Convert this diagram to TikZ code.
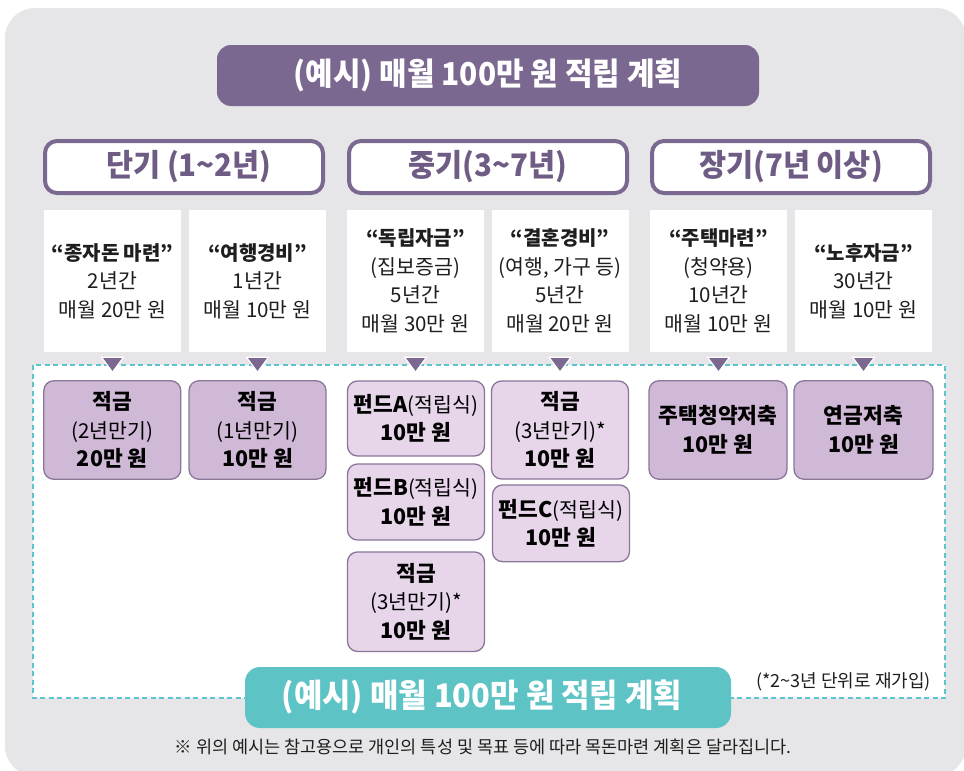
\documentclass[tikz,border=0pt]{standalone}
\usepackage{fontspec}
\usepackage{graphicx}
\setmainfont{Noto Sans CJK KR}
\usetikzlibrary{calc}
\definecolor{panelgray}{HTML}{E6E6E8}
\definecolor{purp}{HTML}{7B6891}
\definecolor{purptext}{HTML}{6E5C84}
\definecolor{pdark}{HTML}{D0B9D7}
\definecolor{plight}{HTML}{E7D6EA}
\definecolor{pborder}{HTML}{8A7699}
\definecolor{teal}{HTML}{5EC3C5}
\definecolor{tealdash}{HTML}{5BC5CB}
\definecolor{ink}{HTML}{1E1E1E}
\tikzset{
  titlebox/.style={fill=purp, rounded corners=14pt, minimum width=542pt, minimum height=61pt, inner sep=0pt, text=white},
  catbox/.style={draw=purp, line width=4pt, fill=white, rounded corners=12pt, minimum width=278pt, minimum height=52pt, inner sep=0pt, text=purptext},
  infobox/.style={fill=white, minimum width=137pt, minimum height=142pt, inner sep=0pt, align=center, text=ink,
    font=\fontsize{20.5}{28.5}\selectfont},
  prodbox/.style={draw=pborder, line width=1.3pt, rounded corners=10pt, minimum width=137pt, inner sep=0pt, align=center, text=black,
    font=\fontsize{20.5}{28.5}\selectfont},
  pdk/.style={prodbox, fill=pdark},
  plt/.style={prodbox, fill=plight},
  tri/.style={fill=purp, draw=white, line width=1.2pt, line join=miter},
  tealbox/.style={fill=teal, rounded corners=15pt, minimum width=486pt, minimum height=61pt, inner sep=0pt, text=white},
}
\newcommand{\headtxt}[3]{\scalebox{#1}[1]{\fontsize{#2}{#2}\selectfont\bfseries #3}}
\newcommand{\bt}[1]{{\fontsize{20}{28.5}\selectfont\bfseries #1}}
\newcommand{\pb}[1]{{\fontsize{21.5}{28.5}\selectfont\bfseries #1}}
\begin{document}
\begin{tikzpicture}[x=1pt,y=-1pt]
\useasboundingbox (0,0) rectangle (964,771);
\fill[white] (0,0) rectangle (964,771);
\fill[panelgray, rounded corners=30pt] (5,8) rectangle (966,776);

% title
\node[titlebox] (title) at (488,75.5) {\headtxt{0.95}{31.5}{(예시) 매월 100만 원 적립 계획}};

% categories
\node[catbox] (c1) at (184,167) {\hspace{10pt}\headtxt{0.95}{31}{단기 (1\textasciitilde2년)}};
\node[catbox] (c2) at (488,167) {\headtxt{0.95}{31}{중기(3\textasciitilde7년)}};
\node[catbox] (c3) at (791,167) {\headtxt{0.95}{31}{장기(7년 이상)}};

% info boxes
\node[infobox] (i1) at (112.5,281) {\bt{“종자돈 마련”}\\2년간\\매월 20만 원};
\node[infobox] (i2) at (257.5,281) {\bt{“여행경비”}\\1년간\\매월 10만 원};
\node[infobox] (i3) at (415.5,281) {\bt{“독립자금”}\\(집보증금)\\5년간\\매월 30만 원};
\node[infobox] (i4) at (560,281) {\bt{“결혼경비”}\\(여행, 가구 등)\\5년간\\매월 20만 원};
\node[infobox] (i5) at (718.5,281) {\bt{“주택마련”}\\(청약용)\\10년간\\매월 10만 원};
\node[infobox] (i6) at (863.5,281) {\bt{“노후자금”}\\30년간\\매월 10만 원};

% dashed frame
\draw[tealdash, line width=1.6pt, dash pattern=on 5pt off 3.5pt, fill=white] (33,365) rectangle (945,698);

% product boxes
\node[pdk, minimum height=98.5pt] (p1) at (112.3,430) {\pb{적금}\\(2년만기)\\\pb{20만 원}};
\node[pdk, minimum height=98.5pt] (p2) at (257.5,430) {\pb{적금}\\(1년만기)\\\pb{10만 원}};
\node[plt, minimum height=75pt] (p3a) at (416,418.5) {\pb{펀드A}(적립식)\\\pb{10만 원}};
\node[plt, minimum height=76pt] (p3b) at (416,502) {\pb{펀드B}(적립식)\\\pb{10만 원}};
\node[plt, minimum height=99.5pt] (p3c) at (416,601.7) {\pb{적금}\\(3년만기)*\\\pb{10만 원}};
\node[plt, minimum height=98pt] (p4a) at (560,430) {\pb{적금}\\(3년만기)*\\\pb{10만 원}};
\node[plt, minimum height=76.7pt] (p4b) at (561,523.3) {\pb{펀드C}(적립식)\\\pb{10만 원}};
\node[pdk, minimum height=98.5pt, minimum width=138pt] (p5) at (718,430) {\pb{주택청약저축}\\\pb{10만 원}};
\node[pdk, minimum height=98.5pt, minimum width=139pt] (p6) at (863.5,430) {\pb{연금저축}\\\pb{10만 원}};

% triangles
\foreach \n in {i1,i2,i3,i4,i5,i6}
  \draw[tri] ($(\n.south)+(-11,5)$) -- ($(\n.south)+(11,5)$) -- ($(\n.south)+(0,20)$) -- cycle;

% note
\node[anchor=east, inner sep=0pt, text=ink, font=\fontsize{18}{18}\selectfont] (note) at (931,682) {(*2\textasciitilde3년 단위로 재가입)};

% bottom teal title
\node[tealbox] (bottom) at (488,697.5) {\hspace*{-12pt}\headtxt{0.95}{32.5}{(예시) 매월 100만 원 적립 계획}};

% footnote
\node[inner sep=0pt, text=ink, font=\fontsize{17.5}{17.5}\selectfont] (foot) at (483,747) {※ 위의 예시는 참고용으로 개인의 특성 및 목표 등에 따라 목돈마련 계획은 달라집니다.};
\end{tikzpicture}
\end{document}
